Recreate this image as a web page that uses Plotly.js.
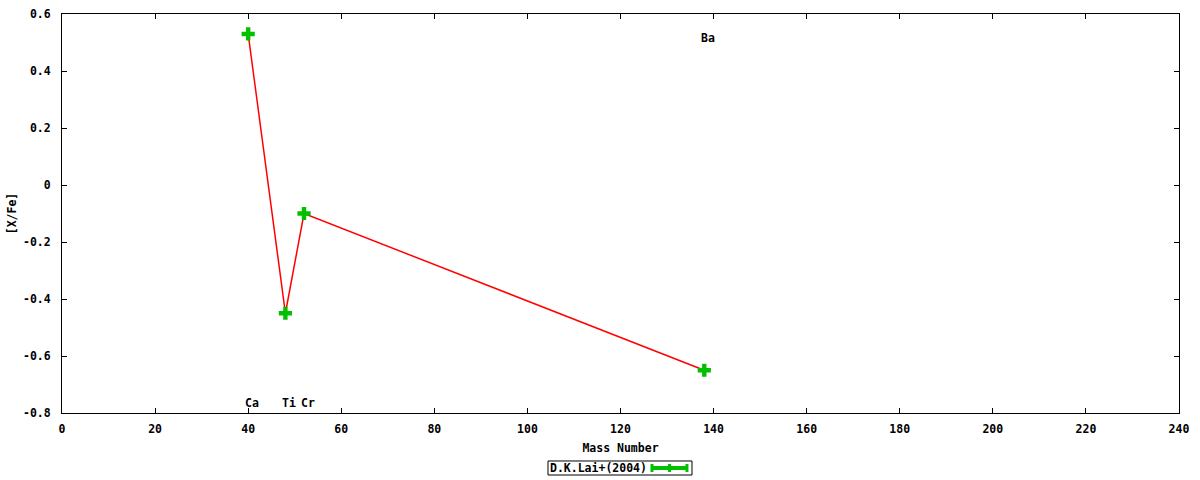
<!DOCTYPE html>
<html><head><meta charset="utf-8">
<script src="https://cdn.plot.ly/plotly-3.0.1.min.js"></script>
<style>body{margin:0;background:#fff}#c{width:1200px;height:480px}</style>
</head><body><div id="c"></div>
<script>
const elements = ["Ca", "Ti", "Cr", "Ba"];
const massNumber = [40, 48, 52, 138];
const xFe = [0.53, -0.45, -0.10, -0.65];
const labelY = [-0.765, -0.765, -0.765, 0.515];
const seriesName = "D.K.Lai+(2004)";
const xTicks = [0, 20, 40, 60, 80, 100, 120, 140, 160, 180, 200, 220, 240];
const yTicks = [-0.8, -0.6, -0.4, -0.2, 0, 0.2, 0.4, 0.6];
const yTickText = ["-0.8", "-0.6", "-0.4", "-0.2", "0", "0.2", "0.4", "0.6"];

const F = "DejaVu Sans Mono, Liberation Mono, monospace";
const font = {family: F, size: 11.5, color: "#000"};
const tfont = {family: F, size: 11.5, color: "#000", weight: "bold"};

const traces = [
  {x: massNumber, y: xFe, mode: "lines", line: {color: "#ff0000", width: 1.5},
   showlegend: false, hoverinfo: "skip"},
  {x: massNumber, y: xFe, mode: "markers", name: seriesName, showlegend: false,
   marker: {symbol: "cross", size: 11, color: "#00c000", line: {width: 0}}}
];

const annotations = elements.map((e, i) => ({
  x: massNumber[i], y: labelY[i], xref: "x", yref: "y", text: "<b>" + e + "</b>",
  showarrow: false, xanchor: "left", xshift: -5, font: font
}));
annotations.push({
  x: 0.4351, y: -0.1378, xref: "paper", yref: "paper", xanchor: "left", yanchor: "middle",
  text: "<b>" + seriesName + "</b>", showarrow: false, font: font
});

const lx0 = 0.5282, lx1 = 0.5595, ly = -0.1378, th = 0.010;
const shapes = [
  {type: "rect", xref: "paper", yref: "paper", x0: 0.4351, x1: 0.5640, y0: -0.1554, y1: -0.1203,
   line: {color: "#000", width: 1}, fillcolor: "rgba(0,0,0,0)"},
  {type: "line", xref: "paper", yref: "paper", x0: lx0, x1: lx1, y0: ly, y1: ly,
   line: {color: "#00c000", width: 4}},
  {type: "line", xref: "paper", yref: "paper", x0: lx0, x1: lx0, y0: ly - th, y1: ly + th,
   line: {color: "#00c000", width: 3}},
  {type: "line", xref: "paper", yref: "paper", x0: lx1, x1: lx1, y0: ly - th, y1: ly + th,
   line: {color: "#00c000", width: 3}},
  {type: "line", xref: "paper", yref: "paper", x0: (lx0 + lx1) / 2, x1: (lx0 + lx1) / 2, y0: ly - th, y1: ly + th,
   line: {color: "#00c000", width: 3}}
];

const layout = {
  width: 1200, height: 480,
  margin: {l: 62, r: 21, t: 14, b: 67},
  paper_bgcolor: "#fff", plot_bgcolor: "#fff",
  font: font,
  xaxis: {range: [0, 240], tickvals: xTicks, ticktext: xTicks.map(String),
    ticks: "inside", ticklen: 5, tickcolor: "#000", mirror: "ticks",
    showline: true, linecolor: "#000", linewidth: 1, showgrid: false, zeroline: false,
    tickfont: tfont, ticklabelstandoff: 5,
    title: {text: "<b>Mass Number</b>", font: font, standoff: 9}},
  yaxis: {range: [-0.8, 0.6], tickvals: yTicks, ticktext: yTickText,
    ticks: "inside", ticklen: 5, tickcolor: "#000", mirror: "ticks",
    showline: true, linecolor: "#000", linewidth: 1, showgrid: false, zeroline: false,
    tickfont: tfont, ticklabelstandoff: 8,
    title: {text: "<b>[X/Fe]</b>", font: font, standoff: 3}},
  annotations: annotations,
  shapes: shapes
};

Plotly.newPlot("c", traces, layout, {displayModeBar: false, staticPlot: true});
</script>
</body></html>
